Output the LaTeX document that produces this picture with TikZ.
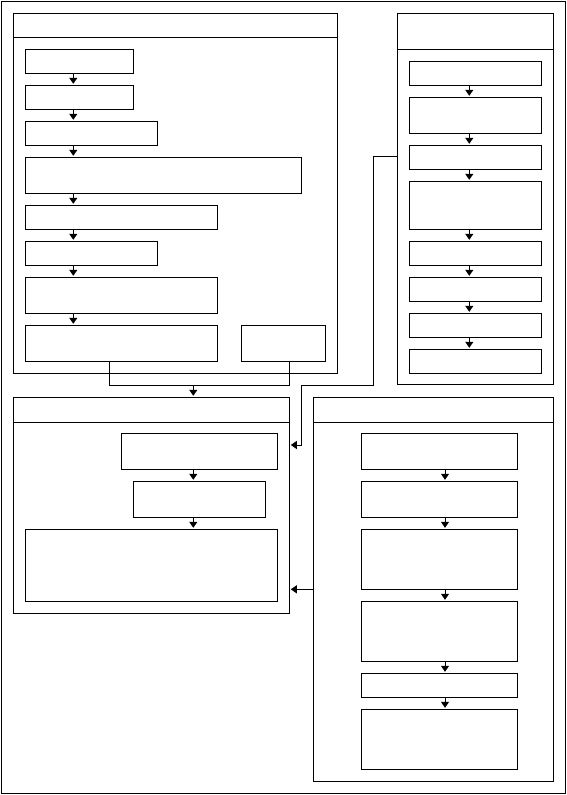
\documentclass[tikz,border=0pt]{standalone}
\usetikzlibrary{positioning,arrows.meta}

\begin{document}
\begin{tikzpicture}[x=1pt, y=-1pt, line width=1pt,
    pnl/.style={draw, rectangle, inner sep=0pt, outer sep=0pt, anchor=north west},
    blk/.style={pnl, minimum height=24pt},
    arr/.style={-{Triangle[length=6pt,width=8pt]}, shorten >=1.5pt}
  ]
  \useasboundingbox (0,0) rectangle (567,795);
  \node[pnl, minimum width=564pt, minimum height=792pt] (frame) at (1.5,1.5) {};

  % panels with their header strips
  \node[pnl, minimum width=324pt, minimum height=360pt] (pA) at (13.3,13.3) {};
  \node[pnl, minimum width=324pt, minimum height=24pt] (hA) at (pA.north west) {};
  \node[pnl, minimum width=155.6pt, minimum height=371.4pt] (pB) at (397.7,13.3) {};
  \node[pnl, minimum width=155.6pt, minimum height=36pt] (hB) at (pB.north west) {};
  \node[pnl, minimum width=276pt, minimum height=216pt] (pC) at (13.3,397.3) {};
  \node[pnl, minimum width=276pt, minimum height=24.7pt] (hC) at (pC.north west) {};
  \node[pnl, minimum width=240pt, minimum height=384pt] (pD) at (313.3,397.3) {};
  \node[pnl, minimum width=240pt, minimum height=24.7pt] (hD) at (pD.north west) {};

  % top left
  \node[blk, minimum width=108.4pt] (A1) at (25.3,49.3) {};
  \node[blk, minimum width=108.4pt] (A2) at (25.3,85.3) {};
  \node[blk, minimum width=132pt]   (A3) at (25.3,121.3) {};
  \node[blk, minimum width=276.4pt, minimum height=36pt] (A4) at (25.3,157.3) {};
  \node[blk, minimum width=192.4pt] (A5) at (25.3,205.3) {};
  \node[blk, minimum width=132pt]   (A6) at (25.3,241.3) {};
  \node[blk, minimum width=192.4pt, minimum height=36pt] (A7) at (25.3,277.3) {};
  \node[blk, minimum width=192.4pt, minimum height=36pt] (A8) at (25.3,325.3) {};
  \node[blk, minimum width=84.4pt, minimum height=36pt]  (A9) at (241.3,325.3) {};

  % top right
  \node[blk, minimum width=132pt] (B1) at (409.3,61.3) {};
  \node[blk, minimum width=132pt, minimum height=36pt] (B2) at (409.3,97.3) {};
  \node[blk, minimum width=132pt] (B3) at (409.3,145.3) {};
  \node[blk, minimum width=132pt, minimum height=48pt] (B4) at (409.3,181.3) {};
  \node[blk, minimum width=132pt] (B5) at (409.3,241.3) {};
  \node[blk, minimum width=132pt] (B6) at (409.3,277.3) {};
  \node[blk, minimum width=132pt] (B7) at (409.3,313.3) {};
  \node[blk, minimum width=132pt] (B8) at (409.3,349.3) {};

  % bottom left
  \node[blk, minimum width=156.4pt, minimum height=36pt] (C1) at (121.3,433.3) {};
  \node[blk, minimum width=132.4pt, minimum height=36pt] (C2) at (133.3,481.3) {};
  \node[blk, minimum width=252.4pt, minimum height=72pt] (C3) at (25.3,529.3) {};

  % bottom right
  \node[blk, minimum width=156.4pt, minimum height=36pt] (D1) at (361.3,433.3) {};
  \node[blk, minimum width=156.4pt, minimum height=36pt] (D2) at (361.3,481.3) {};
  \node[blk, minimum width=156.4pt, minimum height=60pt] (D3) at (361.3,529.3) {};
  \node[blk, minimum width=156.4pt, minimum height=60pt] (D4) at (361.3,601.3) {};
  \node[blk, minimum width=156.4pt] (D5) at (361.3,673.3) {};
  \node[blk, minimum width=156.4pt, minimum height=60pt] (D6) at (361.3,709.3) {};

  % flows inside the panels
  \foreach \a/\b in {A1/A2,A2/A3,A3/A4,A4/A5,A5/A6,A6/A7,A7/A8}
    \draw[arr] (73.3,0 |- \a.south) -- (73.3,0 |- \b.north);
  \foreach \a/\b in {B1/B2,B2/B3,B3/B4,B4/B5,B5/B6,B6/B7,B7/B8}
    \draw[arr] (469.3,0 |- \a.south) -- (469.3,0 |- \b.north);
  \foreach \a/\b in {C1/C2,C2/C3}
    \draw[arr] (193.3,0 |- \a.south) -- (193.3,0 |- \b.north);
  \foreach \a/\b in {D1/D2,D2/D3,D3/D4,D4/D5,D5/D6}
    \draw[arr] (445,0 |- \a.south) -- (445,0 |- \b.north);

  % links between panels
  \coordinate (jL) at (109.7,385.3);
  \coordinate (jR) at (289.3,385.3);
  \coordinate (jM) at (193.3,385.3);
  \draw (A8.south -| jL) -- (jL) -- (jR) -- (A9.south -| jR);
  \draw[arr] (jM) -- (jM |- pC.north);

  \coordinate (r1) at (373.3,156.7);
  \coordinate (r2) at (373.3,385.3);
  \coordinate (r3) at (301.7,385.3);
  \coordinate (r4) at (301.7,445);
  \draw[arr] (pB.west |- r1) -- (r1) -- (r2) -- (r3) -- (r4) -- (pC.east |- r4);
  \draw[arr] (pD.west |- D3.south) -- (pC.east |- D3.south);
\end{tikzpicture}
\end{document}
